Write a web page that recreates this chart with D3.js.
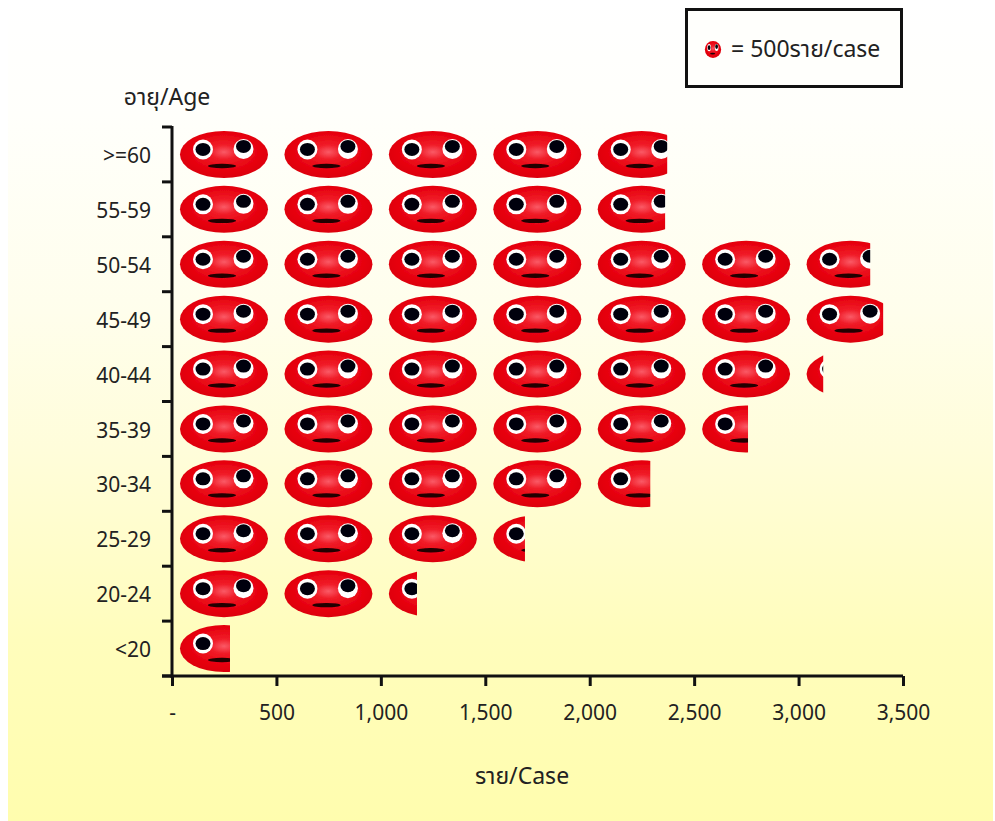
<!DOCTYPE html>
<html><head><meta charset="utf-8">
<script src="https://cdn.jsdelivr.net/npm/d3@7"></script>
<style>html,body{margin:0;padding:0;background:#fff}svg{display:block}
text{font-family:"Noto Sans","Noto Sans Thai","Open Sans",sans-serif;fill:#222}</style></head>
<body><div id="c"></div>
<script>
const ageGroups=[">=60","55-59","50-54","45-49","40-44","35-39","30-34","25-29","20-24","<20"];
const caseValues=[2371,2361,3343,3405,3118,2758,2290,1690,1173,278];
const xTicks=[0,500,1000,1500,2000,2500,3000,3500];
const unitPerIcon=500;
const W=995,H=821;
const svg=d3.select("#c").append("svg").attr("width",W).attr("height",H);
const defs=svg.append("defs");
const bg=defs.append("linearGradient").attr("id","bg").attr("x1",0).attr("x2",0).attr("y1",0).attr("y2",1);
[[0,"#ffffff"],[0.14,"#fffffb"],[0.38,"#fffeec"],[0.55,"#fffdda"],[0.78,"#fffdbc"],[1,"#fffdae"]].forEach(s=>bg.append("stop").attr("offset",s[0]).attr("stop-color",s[1]));
const rg=defs.append("radialGradient").attr("id","face").attr("cx","50%").attr("cy","45%").attr("r","55%");
[[0,"#fa5a66"],[0.28,"#f01c28"],[0.75,"#e6000e"],[1,"#dc000a"]].forEach(s=>rg.append("stop").attr("offset",s[0]).attr("stop-color",s[1]));
defs.append("filter").attr("id","soft").attr("x","-5%").attr("y","-5%").attr("width","110%").attr("height","110%")
  .append("feGaussianBlur").attr("stdDeviation",0.6);
svg.append("rect").attr("x",8).attr("y",0).attr("width",985).attr("height",H).attr("fill","url(#bg)");

const x=d3.scaleLinear().domain([0,3500]).range([172,903]);
const y=d3.scaleBand().domain(ageGroups).range([127,676]);

function face(g,sx,sy,soft){
  if(soft) g.attr("filter","url(#soft)");
  g.append("ellipse").attr("rx",44*sx).attr("ry",23.5*sy).attr("fill","url(#face)");
  g.append("ellipse").attr("cx",-21*sx).attr("cy",-5*sy).attr("rx",10*sx).attr("ry",10*sy).attr("fill","#fff");
  g.append("ellipse").attr("cx",-21*sx).attr("cy",-5*sy).attr("rx",7.5*sx).attr("ry",6.5*sy).attr("fill","#06040c");
  g.append("ellipse").attr("cx",19.5*sx).attr("cy",-5.5*sy).attr("rx",10*sx).attr("ry",10*sy).attr("fill","#fff");
  g.append("ellipse").attr("cx",19.5*sx).attr("cy",-8*sy).attr("rx",7.5*sx).attr("ry",6.5*sy).attr("fill","#06040c");
  g.append("ellipse").attr("cx",-2*sx).attr("cy",11.5*sy).attr("rx",14*sx).attr("ry",2.2*sy).attr("fill","#200004");
}

const inset=8, iconW=88;
const rows=ageGroups.map((a,i)=>({a,v:caseValues[i],i}));
const chart=svg.append("g");
rows.forEach(r=>{
  const clipId="clip"+r.i;
  defs.append("clipPath").attr("id",clipId).append("rect")
    .attr("x",x(0)).attr("width",x(r.v)-x(0))
    .attr("y",y(r.a)).attr("height",y.bandwidth());
  const row=chart.append("g").attr("clip-path",`url(#${clipId})`);
  d3.range(Math.ceil(r.v/unitPerIcon)).forEach(k=>{
    const g=row.append("g").attr("transform",`translate(${x(k*unitPerIcon)+inset+iconW/2},${y(r.a)+y.bandwidth()/2})`);
    face(g,1,1,true);
  });
});

// axes
const axisColor="#111";
const xAxis=svg.append("g").attr("transform","translate(0,676)")
  .call(d3.axisBottom(x).tickValues(xTicks).tickSize(10).tickPadding(19)
  .tickFormat(d=>d===0?"-":d3.format(",")(d)));
xAxis.select(".domain").attr("d","M162,0H903").attr("stroke",axisColor).attr("stroke-width",3);
xAxis.selectAll(".tick line").attr("stroke",axisColor).attr("stroke-width",3);
xAxis.selectAll("text").attr("font-size",21).attr("fill","#222").style("font-family",'"Noto Sans",sans-serif');

const yEdges=d3.range(ageGroups.length+1).map(i=>127+i*y.step());
const yAxis=svg.append("g").attr("transform","translate(172,0)");
yAxis.append("line").attr("y1",126).attr("y2",678).attr("stroke",axisColor).attr("stroke-width",3);
yAxis.selectAll("line.t").data(yEdges).join("line").attr("class","t")
  .attr("x1",-10).attr("x2",0).attr("y1",d=>d).attr("y2",d=>d)
  .attr("stroke",axisColor).attr("stroke-width",3);
yAxis.selectAll("text").data(ageGroups).join("text")
  .attr("x",-21).attr("y",d=>y(d)+y.bandwidth()/2+1).attr("dy","0.36em")
  .attr("text-anchor","end").attr("font-size",21).text(d=>d);

svg.append("text").attr("x",167).attr("y",105).attr("text-anchor","middle").attr("font-size",23).text("อายุ/Age");
svg.append("text").attr("x",522).attr("y",784).attr("text-anchor","middle").attr("font-size",23).text("ราย/Case");

// legend
svg.append("rect").attr("x",686.5).attr("y",9.5).attr("width",215).attr("height",77).attr("fill","#fffffc").attr("stroke",axisColor).attr("stroke-width",3);
face(svg.append("g").attr("transform","translate(713,49.5)"),0.185,0.36,false);
svg.append("text").attr("x",731).attr("y",57).attr("font-size",23).text("= 500ราย/case");
</script></body></html>
